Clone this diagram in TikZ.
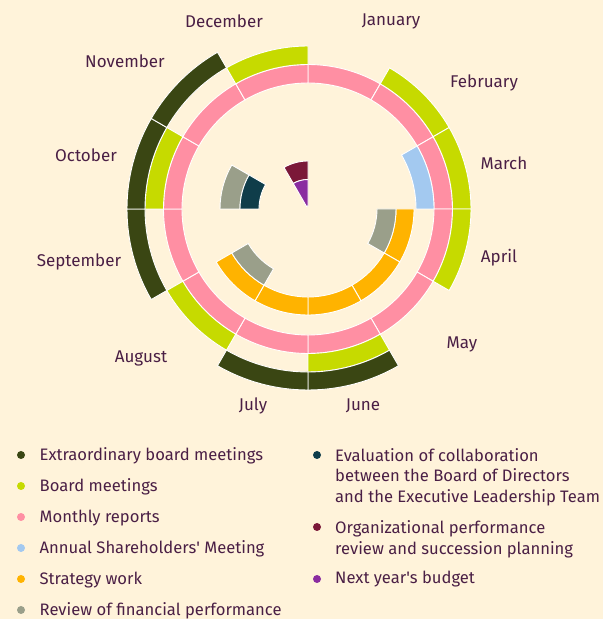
\documentclass[tikz,border=0pt]{standalone}
\usepackage{fontspec}
\setmainfont{Fira Sans}
\usepackage{tikz}
\usetikzlibrary{positioning}

\definecolor{paper}{HTML}{FFF3DA}
\definecolor{ink}{HTML}{4A1F45}
\definecolor{extraGreen}{HTML}{3A4613}
\definecolor{boardLime}{HTML}{C6DA00}
\definecolor{reportPink}{HTML}{FF8FA3}
\definecolor{agmBlue}{HTML}{A3C9F0}
\definecolor{strategyOrange}{HTML}{FFB300}
\definecolor{reviewGray}{HTML}{9A9F8A}
\definecolor{evalTeal}{HTML}{0F3D4A}
\definecolor{orgMaroon}{HTML}{7B1838}
\definecolor{budgetPurple}{HTML}{8A2CA0}

% ring segment: colour, start angle, end angle, outer r, inner r
\newcommand{\ringseg}[5]{%
  \filldraw[#1, draw=white, line width=0.9pt]
    (#2:#4) arc[start angle=#2, end angle=#3, radius=#4]
    -- (#3:#5) arc[start angle=#3, end angle=#2, radius=#5] -- cycle;}

\begin{document}
\begin{tikzpicture}
  [
    x=1pt, y=1pt,
    Month/.style={text=ink, font=\fontsize{17}{20}\selectfont, inner sep=0pt},
    Key/.style={text=ink, font=\fontsize{16.6}{20.5}\selectfont, inner sep=0pt, anchor=west, align=left},
    Dot/.style={circle, draw=none, minimum size=8pt, inner sep=0pt}
  ]
  \fill[paper] (0,0) rectangle (603,619);
  \useasboundingbox (0,0) rectangle (603,619);

  % Rings
  \begin{scope}[shift={(308,410)}]
    % monthly reports
    \ringseg{reportPink}{90}{60}{144.5}{126}
    \ringseg{reportPink}{60}{30}{144.5}{126}
    \ringseg{reportPink}{30}{0}{144.5}{126}
    \ringseg{reportPink}{0}{-30}{144.5}{126}
    \ringseg{reportPink}{-30}{-60}{144.5}{126}
    \ringseg{reportPink}{-60}{-90}{144.5}{126}
    \ringseg{reportPink}{-90}{-120}{144.5}{126}
    \ringseg{reportPink}{-120}{-150}{144.5}{126}
    \ringseg{reportPink}{-150}{-180}{144.5}{126}
    \ringseg{reportPink}{180}{150}{144.5}{126}
    \ringseg{reportPink}{150}{120}{144.5}{126}
    \ringseg{reportPink}{120}{90}{144.5}{126}

    % board meetings
    \ringseg{boardLime}{60}{30}{163}{144.5}
    \ringseg{boardLime}{30}{0}{163}{144.5}
    \ringseg{boardLime}{0}{-30}{163}{144.5}
    \ringseg{boardLime}{-60}{-90}{163}{144.5}
    \ringseg{boardLime}{-120}{-150}{163}{144.5}
    \ringseg{boardLime}{180}{150}{163}{144.5}
    \ringseg{boardLime}{120}{90}{163}{144.5}

    % extraordinary board meetings
    \ringseg{extraGreen}{-60}{-90}{181}{163}
    \ringseg{extraGreen}{-90}{-120}{181}{163}
    \ringseg{extraGreen}{-150}{-180}{181}{163}
    \ringseg{extraGreen}{180}{150}{181}{163}
    \ringseg{extraGreen}{150}{120}{181}{163}

    % annual shareholders' meeting
    \ringseg{agmBlue}{30}{0}{126}{108}

    % strategy work
    \ringseg{strategyOrange}{0}{-30}{106}{88}
    \ringseg{strategyOrange}{-30}{-60}{106}{88}
    \ringseg{strategyOrange}{-60}{-90}{106}{88}
    \ringseg{strategyOrange}{-90}{-120}{106}{88}
    \ringseg{strategyOrange}{-120}{-150}{106}{88}

    % review of financial performance
    \ringseg{reviewGray}{0}{-30}{88}{69}
    \ringseg{reviewGray}{-120}{-150}{88}{69}
    \ringseg{reviewGray}{180}{150}{88}{68}

    % evaluation, org review, budget
    \ringseg{evalTeal}{180}{150}{68}{49}
    \ringseg{orgMaroon}{120}{90}{48}{29.5}
    \ringseg{budgetPurple}{120}{90}{29.5}{3}
  \end{scope}

  % Months
  \node[Month] (jan) at (391,598) {January};
  \node[Month] (feb) at (484,536.5) {February};
  \node[Month] (mar) at (504,456) {March};
  \node[Month] (apr) at (499,361) {April};
  \node[Month] (may) at (462,275) {May};
  \node[Month] (jun) at (363,213) {June};
  \node[Month] (jul) at (253,213) {July};
  \node[Month] (aug) at (141,261) {August};
  \node[Month] (sep) at (79,357) {September};
  \node[Month] (oct) at (86,464) {October};
  \node[Month] (nov) at (125,557.5) {November};
  \node[Month] (dec) at (224,598) {December};

  % Legend
  \node[Dot, fill=extraGreen] (kExtra) at (21,164) {};
  \node[Key] (tExtra) at (39.5,163.5) {Extraordinary board meetings};
  \node[Dot, fill=boardLime] (kBoard) at (21,133) {};
  \node[Key] (tBoard) at (39.5,132.5) {Board meetings};
  \node[Dot, fill=reportPink] (kReport) at (21,102) {};
  \node[Key] (tReport) at (39.5,101) {Monthly reports};
  \node[Dot, fill=agmBlue] (kAgm) at (21,71) {};
  \node[Key] (tAgm) at (39.5,70) {Annual Shareholders\textquotesingle\ Meeting};
  \node[Dot, fill=strategyOrange] (kStrategy) at (21,40) {};
  \node[Key] (tStrategy) at (39.5,39) {Strategy work};
  \node[Dot, fill=reviewGray] (kReview) at (21,9) {};
  \node[Key] (tReview) at (39.5,8) {Review of financial performance};

  \node[Dot, fill=evalTeal] (kEval) at (317,164) {};
  \node[Key, anchor=north west] (tEval) at (335,171)
    {Evaluation of collaboration\\between the Board of Directors\\and the Executive Leadership Team};
  \node[Dot, fill=orgMaroon] (kOrg) at (317,92) {};
  \node[Key, anchor=north west] (tOrg) at (335,98.5)
    {Organizational performance\\review and succession planning};
  \node[Dot, fill=budgetPurple] (kBudget) at (317,40) {};
  \node[Key] (tBudget) at (335,39.5) {Next year\textquotesingle s budget};

\end{tikzpicture}
\end{document}
